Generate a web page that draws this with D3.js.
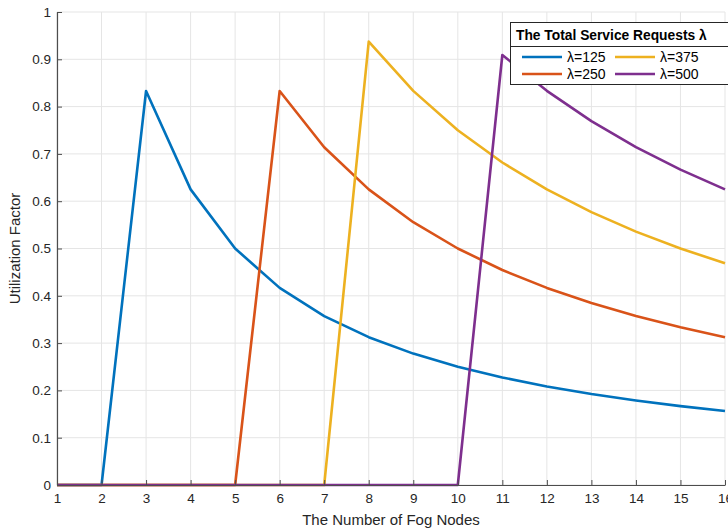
<!DOCTYPE html>
<html><head><meta charset="utf-8">
<script src="https://cdn.jsdelivr.net/npm/d3@7/dist/d3.min.js"></script>
<style>body{margin:0;background:#fff;} svg{display:block;font-family:"Liberation Sans",Arial,sans-serif;}</style>
</head><body>
<script>
const nodes = [1,2,3,4,5,6,7,8,9,10,11,12,13,14,15,16];
const lambda125 = [0,0,0.833,0.625,0.5,0.4167,0.357,0.3125,0.2778,0.25,0.2273,0.2083,0.1923,0.1786,0.1667,0.1563];
const lambda250 = [0,0,0,0,0,0.833,0.714,0.625,0.5556,0.5,0.4545,0.4167,0.3846,0.3571,0.3333,0.3125];
const lambda375 = [0,0,0,0,0,0,0,0.9375,0.8333,0.75,0.6818,0.625,0.5769,0.5357,0.5,0.4688];
const lambda500 = [0,0,0,0,0,0,0,0,0,0,0.9091,0.8333,0.7692,0.7143,0.6667,0.625];
const seriesNames = ["λ=125","λ=250","λ=375","λ=500"];
const colors = ["#0072BD","#D95319","#EDB120","#7E2F8E"];
const yTicks = [0,0.1,0.2,0.3,0.4,0.5,0.6,0.7,0.8,0.9,1];
const legendTitle = "The Total Service Requests λ";
const xLabel = "The Number of Fog Nodes";
const yLabel = "Utilization Factor";

const W=728,H=529;
const m={l:57,r:3,t:12,b:44};
const svg=d3.select("body").append("svg").attr("width",W).attr("height",H);
const x=d3.scaleLinear().domain([1,16]).range([m.l,W-m.r]);
const y=d3.scaleLinear().domain([0,1]).range([H-m.b,m.t]);

// grid
const g=svg.append("g");
g.selectAll(".gx").data(nodes).enter().append("line")
 .attr("x1",d=>x(d)).attr("x2",d=>x(d)).attr("y1",y(0)).attr("y2",y(1))
 .attr("stroke","#e5e5e5").attr("stroke-width",1);
g.selectAll(".gy").data(yTicks).enter().append("line")
 .attr("x1",x(1)).attr("x2",x(16)).attr("y1",d=>y(d)).attr("y2",d=>y(d))
 .attr("stroke","#e5e5e5").attr("stroke-width",1);

// lines
const all=[lambda125,lambda250,lambda375,lambda500];
const line=d3.line().x((d,i)=>x(nodes[i])).y(d=>y(d));
all.forEach((s,i)=>{
 svg.append("path").datum(s).attr("d",line).attr("fill","none")
  .attr("stroke",colors[i]).attr("stroke-width",2.6).attr("stroke-linejoin","round");
});

// axes
const axColor="#4d4d4d";
const xa=svg.append("g").attr("transform",`translate(0,${y(0)})`)
 .call(d3.axisBottom(x).tickValues(nodes).tickFormat(d3.format("d")).tickSizeInner(-5).tickSizeOuter(0).tickPadding(8));
const ya=svg.append("g").attr("transform",`translate(${x(1)},0)`)
 .call(d3.axisLeft(y).tickValues(yTicks).tickFormat(d=>d===0?"0":d===1?"1":d3.format(".1f")(d)).tickSizeInner(-5).tickSizeOuter(0).tickPadding(6));
[xa,ya].forEach(a=>{
 a.select(".domain").attr("stroke",axColor).attr("stroke-width",1.2);
 a.selectAll(".tick line").attr("stroke",axColor);
 a.selectAll("text").attr("fill","#262626").style("font-size","13.5px").style("font-family","'Liberation Sans',Arial,sans-serif");
});

svg.append("text").attr("x",(x(1)+x(16))/2).attr("y",H-4).attr("text-anchor","middle")
 .attr("fill","#262626").style("font-size","15px").text(xLabel);
svg.append("text").attr("transform",`translate(20,${(y(0)+y(1))/2}) rotate(-90)`).attr("text-anchor","middle")
 .attr("fill","#262626").style("font-size","15px").text(yLabel);

// legend
const lg=svg.append("g");
lg.append("rect").attr("x",510.5).attr("y",22.5).attr("width",230).attr("height",62)
 .attr("fill","#fff").attr("stroke","#262626").attr("stroke-width",1);
lg.append("line").attr("x1",510.5).attr("x2",740).attr("y1",46.5).attr("y2",46.5).attr("stroke","#262626");
lg.append("text").attr("x",516).attr("y",40).attr("fill","#000").style("font-size","13.8px").style("font-weight","bold").text(legendTitle);
const pos=[[522,57],[522,74],[615,57],[615,74]];
seriesNames.forEach((n,i)=>{
 const [px,py]=pos[i];
 lg.append("line").attr("x1",px).attr("x2",px+40).attr("y1",py).attr("y2",py).attr("stroke",colors[i]).attr("stroke-width",2.6);
 lg.append("text").attr("x",px+45).attr("y",py+5).attr("fill","#000").style("font-size","14px").text(n);
});
</script>
</body></html>
